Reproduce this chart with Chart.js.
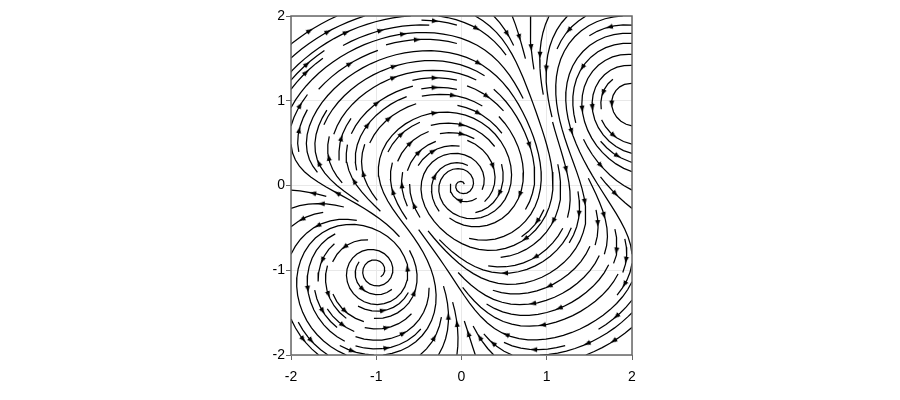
<!DOCTYPE html>
<html><head><meta charset="utf-8">
<script src="https://cdn.jsdelivr.net/npm/chart.js@4.4.1/dist/chart.umd.min.js"></script>
<style>html,body{margin:0;padding:0;background:#fff}</style>
</head><body>
<canvas id="c" width="900" height="400"></canvas>
<script>
// ---- data ----
const xRange = [-2, 2];
const yRange = [-2, 2];
const tickValues = [-2, -1, 0, 1, 2];
// vortex centres of the flow field
const vortexX = [0, -1, 2];
const vortexY = [0, -1, 1];
// rotation strength (+ counter-clockwise, - clockwise)
const vortexSpin = [-1, 0.8, 0.8];
// radial strength (+ outward source, - inward sink)
const vortexRadial = [-0.22, 0.09, 0.1];
// extent of each vortex
const vortexSize = [1.2, 0.9, 0.9];

function velocity(x, y) {
  let u = 0, v = 0;
  for (let i = 0; i < vortexX.length; i++) {
    const dx = x - vortexX[i], dy = y - vortexY[i];
    const r2 = dx * dx + dy * dy + 1e-12;
    const s = vortexSize[i];
    const w = Math.exp(-r2 / (2 * s * s)) / r2;
    u += w * (-vortexSpin[i] * dy + vortexRadial[i] * dx);
    v += w * (vortexSpin[i] * dx + vortexRadial[i] * dy);
  }
  return [u, v];
}

// ---- streamline tracing (density-mask method) ----
const NM = 38;
const mask = new Uint8Array(NM * NM);
let cur = null, traj = [];
const W = xRange[1] - xRange[0], H = yRange[1] - yRange[0];
function inside(tx, ty) { return tx >= 0 && tx <= 1 && ty >= 0 && ty <= 1; }
function toMask(t) { return Math.round(t * (NM - 1)); }
function updateTraj(tx, ty) {
  if (!inside(tx, ty)) return false;
  const xm = toMask(tx), ym = toMask(ty);
  if (cur === null || cur[0] !== xm || cur[1] !== ym) {
    const k = ym * NM + xm;
    if (mask[k] === 0) { traj.push(k); mask[k] = 1; cur = [xm, ym]; }
    else return false;
  }
  return true;
}
function dir(tx, ty, sg) {
  const [u, v] = velocity(xRange[0] + tx * W, yRange[0] + ty * H);
  const ua = u / W, va = v / H;
  const sp = Math.hypot(ua, va);
  if (!(sp > 0) || !isFinite(sp)) return 0;
  return [sg * ua / sp, sg * va / sp];
}
function euler(pts, sg) {
  const [xi, yi] = pts[pts.length - 1];
  const c = dir(xi, yi, sg);
  if (!c) return 0;
  const dsx = c[0] === 0 ? Infinity : (c[0] < 0 ? xi / -c[0] : (1 - xi) / c[0]);
  const dsy = c[1] === 0 ? Infinity : (c[1] < 0 ? yi / -c[1] : (1 - yi) / c[1]);
  const d = Math.min(dsx, dsy);
  pts.push([xi + c[0] * d, yi + c[1] * d]);
  return d;
}
function rk12(x0, y0, sg) {
  const maxerror = 0.003, maxds = Math.min(1 / NM, 0.1), maxlength = 4;
  let ds = maxds, stotal = 0, xi = x0, yi = y0;
  const pts = [];
  for (let guard = 0; guard < 20000; guard++) {
    if (inside(xi, yi)) pts.push([xi, yi]); else { if (pts.length) stotal += euler(pts, sg); break; }
    const k1 = dir(xi, yi, sg);
    if (!k1) break;
    const xn = xi + ds * k1[0], yn = yi + ds * k1[1];
    if (!inside(xn, yn)) { stotal += euler(pts, sg); break; }
    const k2 = dir(xn, yn, sg);
    if (!k2) break;
    const dx1 = ds * k1[0], dy1 = ds * k1[1];
    const dx2 = ds * 0.5 * (k1[0] + k2[0]), dy2 = ds * 0.5 * (k1[1] + k2[1]);
    const err = Math.hypot(dx2 - dx1, dy2 - dy1);
    if (err < maxerror) {
      xi += dx2; yi += dy2;
      if (!updateTraj(xi, yi)) break;
      if (stotal + ds > maxlength) break;
      stotal += ds;
    }
    ds = err === 0 ? maxds : Math.min(maxds, 0.85 * ds * Math.sqrt(maxerror / err));
    if (ds < 1e-7) break;
  }
  return [stotal, pts];
}
function integrate(x0, y0) {
  traj = [];
  if (!updateTraj(x0, y0)) return null;
  let stotal = 0;
  const b = rk12(x0, y0, -1);
  stotal += b[0];
  let pts = b[1].reverse();
  cur = [toMask(x0), toMask(y0)];
  const f = rk12(x0, y0, 1);
  stotal += f[0];
  pts = pts.concat(f[1].slice(1));
  if (stotal > 0.1) return pts;
  for (const k of traj) mask[k] = 0;
  return null;
}
function* startPoints(nx, ny) {
  let xfirst = 0, yfirst = 1, xlast = nx - 1, ylast = ny - 1, x = 0, y = 0, d = 'right';
  for (let i = 0; i < nx * ny; i++) {
    yield [x, y];
    if (d === 'right') { x++; if (x >= xlast) { xlast--; d = 'up'; } }
    else if (d === 'up') { y++; if (y >= ylast) { ylast--; d = 'left'; } }
    else if (d === 'left') { x--; if (x <= xfirst) { xfirst++; d = 'down'; } }
    else { y--; if (y <= yfirst) { yfirst++; d = 'right'; } }
  }
}
const lines = [];
for (const [xm, ym] of startPoints(NM, NM)) {
  if (mask[ym * NM + xm] === 0) {
    const t = integrate(xm / (NM - 1), ym / (NM - 1));
    if (t) lines.push(t.map(p => ({ x: xRange[0] + p[0] * W, y: yRange[0] + p[1] * H })));
  }
}
// arrows half-way along each streamline
const arrowPts = [], arrowAngles = [];
const pxX = 341 / W, pxY = 339 / H;
for (const L of lines) {
  if (L.length < 2) continue;
  const s = [];
  let acc = 0;
  for (let i = 1; i < L.length; i++) { acc += Math.hypot(L[i].x - L[i - 1].x, L[i].y - L[i - 1].y); s.push(acc); }
  let n = 0;
  while (n < s.length && s[n] < acc / 2) n++;
  if (n >= L.length - 1) n = L.length - 2;
  const a = L[n], b = L[n + 1];
  arrowPts.push({ x: (a.x + b.x) / 2, y: (a.y + b.y) / 2 });
  arrowAngles.push(Math.atan2(-(b.y - a.y) * pxY, (b.x - a.x) * pxX) * 180 / Math.PI);
}

// arrowhead glyph
const head = document.createElement('canvas');
head.width = 14; head.height = 8;
(function () {
  const g = head.getContext('2d');
  g.fillStyle = '#000';
  g.beginPath();
  g.moveTo(10.5, 4); g.lineTo(4, 1.4); g.lineTo(4, 6.6); g.closePath();
  g.fill();
})();

const datasets = [{
  data: arrowPts, showLine: false, pointStyle: head, pointRadius: 4,
  rotation: ctx => arrowAngles[ctx.dataIndex] || 0
}];
for (const L of lines) {
  datasets.push({ data: L, showLine: true, borderColor: '#000', borderWidth: 1.25, pointRadius: 0, fill: false, tension: 0 });
}

const tickFont = { family: "'Liberation Sans', Arial, Helvetica, sans-serif", size: 14 };
const framePlugin = {
  id: 'frame',
  afterDraw(chart) {
    const a = chart.chartArea, g = chart.ctx;
    g.save(); g.strokeStyle = '#666'; g.lineWidth = 1.5;
    g.strokeRect(a.left, a.top, a.right - a.left, a.bottom - a.top);
    g.restore();
  }
};
new Chart(document.getElementById('c'), {
  type: 'scatter',
  data: { datasets },
  plugins: [framePlugin],
  options: {
    responsive: false, animation: false, events: [],
    layout: { padding: { left: 251, right: 268, top: 16, bottom: 15 } },
    plugins: { legend: { display: false }, tooltip: { enabled: false } },
    scales: {
      x: {
        type: 'linear', min: xRange[0], max: xRange[1],
        afterBuildTicks: s => { s.ticks = tickValues.map(v => ({ value: v })); },
        afterFit: s => { s.height = 30; },
        grid: { color: '#e8e8e8', tickColor: '#666', tickLength: 5, lineWidth: 1 },
        border: { display: false },
        ticks: { font: tickFont, color: '#000', padding: 9, maxRotation: 0, callback: v => String(v) }
      },
      y: {
        type: 'linear', min: yRange[0], max: yRange[1],
        afterBuildTicks: s => { s.ticks = tickValues.map(v => ({ value: v })); },
        afterFit: s => { s.width = 40; },
        grid: { color: '#e8e8e8', tickColor: '#666', tickLength: 5, lineWidth: 1 },
        border: { display: false },
        ticks: { font: tickFont, color: '#000', padding: 1, callback: v => String(v) }
      }
    }
  }
});
</script>
</body></html>
